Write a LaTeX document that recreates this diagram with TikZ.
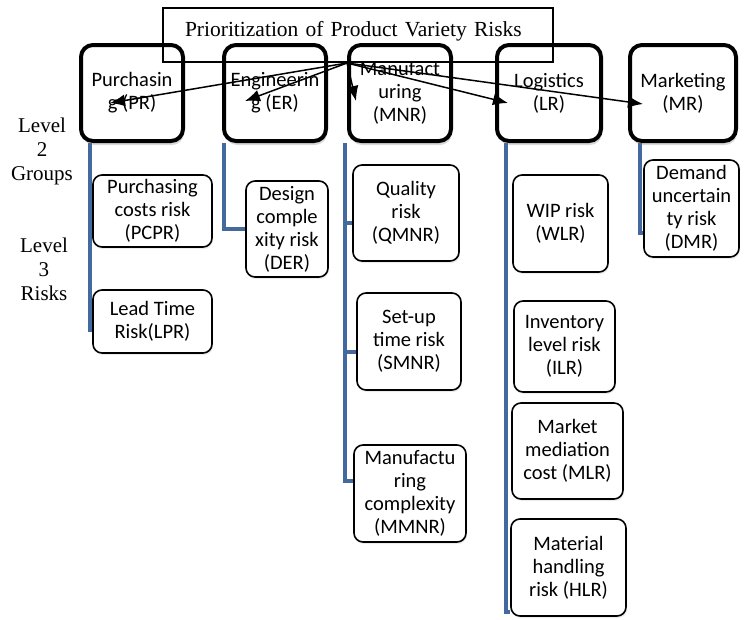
\documentclass[tikz,border=0pt]{standalone}
\usepackage{fontspec}
\setmainfont{Liberation Serif}
\newfontfamily\boxfont{Carlito}
\usepackage{tikz}
\usetikzlibrary{arrows.meta}
\usetikzlibrary{shadows}
\usetikzlibrary{backgrounds}
\definecolor{linkblue}{RGB}{68,105,158}
\tikzset{
	groupstyle/.style={rectangle,rounded corners=12pt,draw=black,line width=4pt,fill=white,minimum width=102pt,minimum height=96pt,inner sep=0pt,align=center,font=\boxfont\fontsize{20.5}{23}\selectfont,drop shadow={shadow xshift=1pt,shadow yshift=-4pt,opacity=0.3}},
	riskstyle/.style={rectangle,rounded corners=9pt,draw=black,line width=1.6pt,fill=white,inner sep=0pt,align=center,font=\boxfont\fontsize{20.5}{23}\selectfont,drop shadow={shadow xshift=1pt,shadow yshift=-2pt,opacity=0.15}},
	titlestyle/.style={rectangle,draw=black,line width=1.3pt,minimum height=54pt,inner xsep=22pt,text width=346pt,text depth=12pt,align=left,font=\fontsize{21.5}{24}\selectfont},
	labelstyle/.style={align=center,font=\fontsize{21}{24}\selectfont},
	linkstyle/.style={draw=linkblue,line width=4pt},
	arrowstyle/.style={draw=black,line width=1.5pt,-{Latex[length=15pt,width=12pt]}}
}

\begin{document}
\begin{tikzpicture}[x=1pt,y=-1pt]
		\useasboundingbox (0,0) rectangle (747,619);
		% level 2 groups
		\node[groupstyle] (pr) at (132,93) {Purchasin\\g (PR)};
		\node[groupstyle] (er) at (275,93) {Engineerin\\g (ER)};
		\node[groupstyle] (mnr) at (400,93) {Manufact\\uring\\(MNR)};
		\node[groupstyle,minimum width=104pt] (lr) at (549,93) {Logistics\\(LR)};
		\node[groupstyle,minimum width=106pt] (mr) at (683,93) {Marketing\\(MR)};
		% level 3 risks
		\node[riskstyle,minimum width=119pt,minimum height=72pt] (pcpr) at (152.5,211) {Purchasing\\costs risk\\(PCPR)};
		\node[riskstyle,minimum width=119pt,minimum height=63pt] (lpr) at (152.5,321.5) {Lead Time\\Risk(LPR)};
		\node[riskstyle,minimum width=82pt,minimum height=96pt] (der) at (287,229) {Design\\comple\\xity risk\\(DER)};
		\node[riskstyle,minimum width=106pt,minimum height=96pt] (qmnr) at (406,213) {Quality\\risk\\(QMNR)};
		\node[riskstyle,minimum width=104pt,minimum height=97pt] (smnr) at (409,341.5) {Set-up\\time risk\\(SMNR)};
		\node[riskstyle,minimum width=112pt,minimum height=97pt] (mmnr) at (410,493.5) {Manufactu\\ring\\complexity\\(MMNR)};
		\node[riskstyle,minimum width=95pt,minimum height=97pt] (wlr) at (560.5,223.5) {WIP risk\\(WLR)};
		\node[riskstyle,minimum width=101pt,minimum height=91pt] (ilr) at (564.5,346.5) {Inventory\\level risk\\(ILR)};
		\node[riskstyle,minimum width=111pt,minimum height=96pt] (mlr) at (567.5,451) {Market\\mediation\\cost (MLR)};
		\node[riskstyle,minimum width=115pt,minimum height=97pt] (hlr) at (568.5,567.5) {Material\\handling\\risk (HLR)};
		\node[riskstyle,minimum width=95pt,minimum height=97pt] (dmr) at (691.5,208.5) {Demand\\uncertain\\ty risk\\(DMR)};
		% side labels
		\node[labelstyle] (lvltwo) at (42,151) {Level\\2\\Groups};
		\node[labelstyle] (lvlthree) at (44,269) {Level\\3\\Risks};
		% title
		\node[titlestyle] (title) at (358,35) {Prioritization of Product Variety Risks};
		\coordinate (hub) at (347,63);
		% blue links
		\begin{scope}[on background layer]
		\draw[linkstyle] ([xshift=11pt]pr.south west) |- ([yshift=-17pt]pcpr.west);
		\draw[linkstyle] ([xshift=11pt]pr.south west) |- ([yshift=-8pt]lpr.west);
		\draw[linkstyle] ([xshift=2pt]er.south west) |- (der.west);
		\draw[linkstyle] ([xshift=-2pt]mnr.south west) |- ([yshift=-10pt]qmnr.west);
		\draw[linkstyle] ([xshift=-2pt]mnr.south west) |- ([yshift=-10pt]smnr.west);
		\draw[linkstyle] ([xshift=-2pt]mnr.south west) |- ([yshift=13pt]mmnr.west);
		\draw[linkstyle] ([xshift=11pt]lr.south west) |- ([yshift=5pt]hlr.south west);
		\draw[linkstyle] ([xshift=12pt]mr.south west) |- ([yshift=-24pt]dmr.west);
		\end{scope}
		% arrows
		\draw[arrowstyle] (hub) -- ([xshift=-22pt,yshift=-10pt]pr.center);
		\draw[arrowstyle] (hub) -- ([xshift=-30pt,yshift=-8pt]er.center);
		\draw[arrowstyle] (hub) -- ([xshift=-44pt,yshift=-8pt]mnr.center);
		\draw[arrowstyle] (hub) -- ([xshift=-41pt,yshift=-10pt]lr.center);
		\draw[arrowstyle] (hub) -- ([xshift=-40pt,yshift=-11pt]mr.center);
\end{tikzpicture}
\end{document}
